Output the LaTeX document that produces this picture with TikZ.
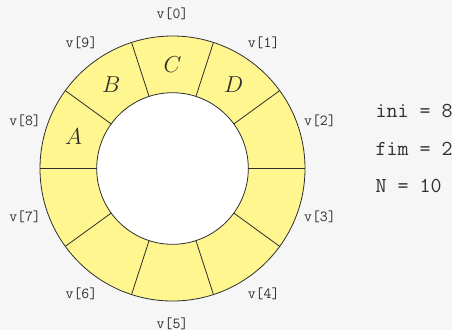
\documentclass[tikz,border=0pt]{standalone}
\usepackage{tikz}
\definecolor{bgray}{HTML}{F6F6F6}
\definecolor{ringyel}{HTML}{FFF68F}
\definecolor{inkgray}{HTML}{2E2E2E}
\tikzset{
	idx/.style={text=inkgray, font=\fontsize{11.5}{14}\selectfont\ttfamily},
	elem/.style={text=inkgray, font=\fontsize{16}{19}\selectfont},
	info/.style={text=inkgray, anchor=base west, font=\fontsize{16}{19}\selectfont\ttfamily}
}

\begin{document}
\begin{tikzpicture}[x=0.75pt, y=0.75pt]
			%%%%% START %%%%%
			
			\fill[bgray] (-172.5, -161.5) rectangle (279.5, 168.5);
			\useasboundingbox (-172.5, -161.5) rectangle (279.5, 168.5);
			
			\draw[fill=ringyel, draw=inkgray, line width=0.6pt] (0, 0) circle (132.5);
			\draw[fill=white, draw=inkgray, line width=0.6pt] (0, 0) circle (75.8);
			
			\draw[inkgray, line width=0.6pt] (0:75.8) -- (0:132.5);
			\draw[inkgray, line width=0.6pt] (36:75.8) -- (36:132.5);
			\draw[inkgray, line width=0.6pt] (72:75.8) -- (72:132.5);
			\draw[inkgray, line width=0.6pt] (108:75.8) -- (108:132.5);
			\draw[inkgray, line width=0.6pt] (144:75.8) -- (144:132.5);
			\draw[inkgray, line width=0.6pt] (180:75.8) -- (180:132.5);
			\draw[inkgray, line width=0.6pt] (216:75.8) -- (216:132.5);
			\draw[inkgray, line width=0.6pt] (252:75.8) -- (252:132.5);
			\draw[inkgray, line width=0.6pt] (288:75.8) -- (288:132.5);
			\draw[inkgray, line width=0.6pt] (324:75.8) -- (324:132.5);
			
			\node[idx] (v0) at (90:155) {v[0]};
			\node[idx] (v1) at (54:155) {v[1]};
			\node[idx] (v2) at (18:155) {v[2]};
			\node[idx] (v3) at (-18:155) {v[3]};
			\node[idx] (v4) at (-54:155) {v[4]};
			\node[idx] (v5) at (-90:155) {v[5]};
			\node[idx] (v6) at (-126:155) {v[6]};
			\node[idx] (v7) at (-162:155) {v[7]};
			\node[idx] (v8) at (162:155) {v[8]};
			\node[idx] (v9) at (126:155) {v[9]};
			
			\node[elem] (eA) at (162:104) {$A$};
			\node[elem] (eB) at (126:104) {$B$};
			\node[elem] (eC) at (90:104) {$C$};
			\node[elem] (eD) at (54:104) {$D$};
			
			\node[info] (ini) at (198.5, 51.5) {ini = 8};
			\node[info] (fim) at (198.5, 13.5) {fim = 2};
			\node[info] (num) at (198.5, -23.5) {N = 10};
			
			%%%%% END %%%%%
\end{tikzpicture}
\end{document}
